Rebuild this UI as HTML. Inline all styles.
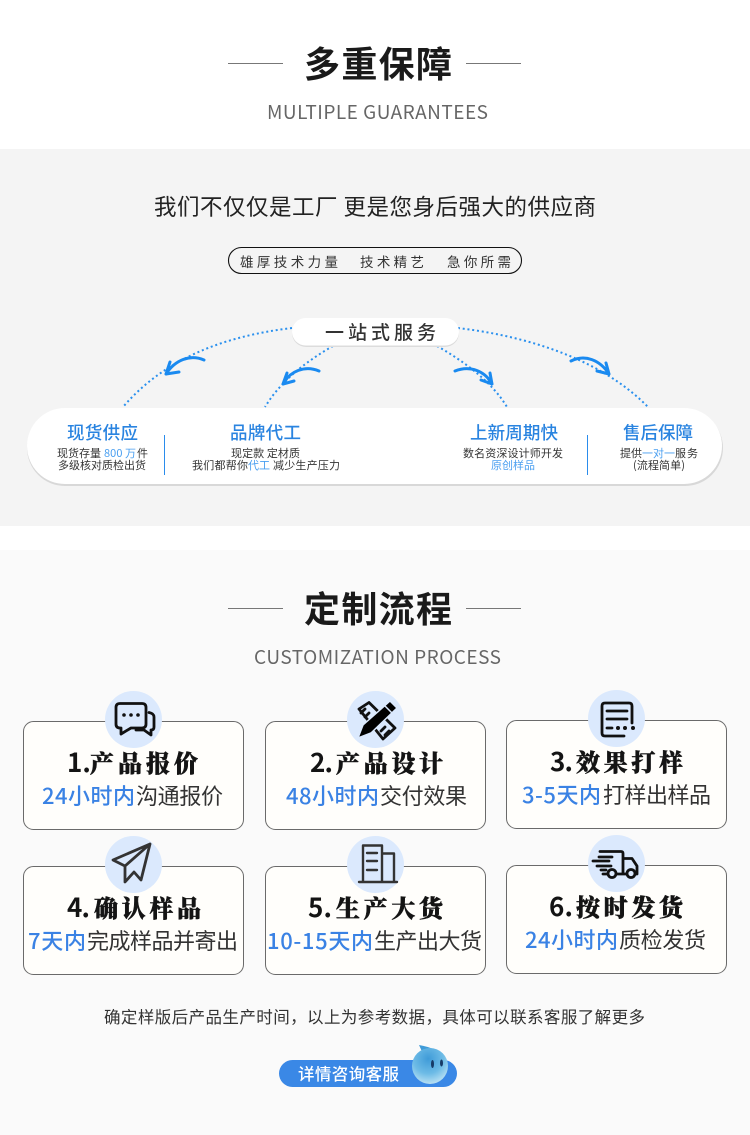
<!DOCTYPE html>
<html lang="zh"><head><meta charset="utf-8"><title>多重保障</title>
<style>
html,body{margin:0;padding:0;background:#fff}
svg{display:block}
text{font-family:"Liberation Sans","Noto Sans CJK SC",sans-serif;fill:#222}
.cjk{font-family:"Noto Sans CJK SC",sans-serif}
.h{font-size:36px;font-weight:700;fill:#1a1a1a}
.en{font-size:19px;fill:#666;font-family:"Noto Sans CJK SC","Liberation Sans",sans-serif}
.t{font-family:"Noto Serif CJK SC",serif;font-size:24px;font-weight:900;fill:#141414;stroke:#141414;stroke-width:.5}
.n{font-family:"Noto Sans CJK SC",sans-serif;font-size:26px;font-weight:700;fill:#141414}
.b{font-family:"Noto Sans CJK SC",sans-serif;font-size:22px;font-weight:500;fill:#3a82e4}
.g{font-family:"Noto Sans CJK SC",sans-serif;font-size:22px;fill:#333}
.bt{font-family:"Noto Sans CJK SC",sans-serif;font-size:17.500px;font-weight:500;fill:#2a84e0}
.s{font-family:"Noto Sans CJK SC",sans-serif;font-size:11px;fill:#333}
.sb{font-family:"Noto Sans CJK SC",sans-serif;font-size:11px;fill:#4a9ff0}
.card{fill:#fffefb;stroke:#6a6a6a;stroke-width:1}
.cir{fill:#dbe9fd}
.dot{fill:none;stroke:#2a90ee;stroke-width:2;stroke-dasharray:2 2.800}
.arr{fill:none;stroke:#1a8af0;stroke-width:3;stroke-linecap:round;stroke-linejoin:round}
.ic{fill:none;stroke:#111;stroke-width:2.800;stroke-linecap:round;stroke-linejoin:round}
</style></head><body>
<svg xmlns="http://www.w3.org/2000/svg" width="750" height="1135" viewBox="0 0 750 1135">
<defs>
<radialGradient id="drop" cx="45%" cy="30%" r="75%"><stop offset="0" stop-color="#3f9bd8"/><stop offset=".55" stop-color="#6dbbe6"/><stop offset="1" stop-color="#c4e6f5"/></radialGradient>
</defs>
<rect width="750" height="1135" fill="#fff"/>
<rect y="149" width="750" height="377" fill="#f4f4f4"/>
<rect y="550" width="750" height="585" fill="#fafafa"/>

<!-- heading 1 -->
<line x1="228" y1="63.500" x2="283" y2="63.500" stroke="#777" stroke-width="1"/>
<line x1="466" y1="63.500" x2="521" y2="63.500" stroke="#777" stroke-width="1"/>
<text class="h cjk" x="304" y="77" textLength="148" lengthAdjust="spacing">多重保障</text>
<text class="en" x="267" y="119" textLength="221" lengthAdjust="spacing">MULTIPLE GUARANTEES</text>

<!-- intro -->
<text class="cjk" x="154" y="215" font-size="22.500" style="fill:#222" textLength="442" lengthAdjust="spacing">我们不仅仅是工厂 更是您身后强大的供应商</text>
<rect x="228.500" y="247.500" width="293" height="26" rx="13" fill="none" stroke="#111" stroke-width="1.100"/>
<text class="cjk" x="240" y="267" font-size="13.500" style="fill:#333" textLength="98" lengthAdjust="spacing">雄厚技术力量</text>
<text class="cjk" x="360" y="267" font-size="13.500" style="fill:#333" textLength="64" lengthAdjust="spacing">技术精艺</text>
<text class="cjk" x="447" y="267" font-size="13.500" style="fill:#333" textLength="64" lengthAdjust="spacing">急你所需</text>

<!-- curves -->
<path class="dot" d="M292 328 C225 336 165 358 123 407"/>
<path class="dot" d="M333 346 C305 362 280 382 265 407"/>
<path class="dot" d="M437 346 C465 362 492 382 507 407"/>
<path class="dot" d="M458 328 C525 336 600 358 648 407"/>
<path class="arr" d="M204 360 C190 354 175 360 166 374 M166 374 L179 372 M166 374 L170 362"/>
<path class="arr" d="M319 371 C305 365 290 371 283 384 M283 384 L294 381 M283 384 L287 373"/>
<path class="arr" d="M455 371 C470 365 485 371 492 384 M492 384 L481 380 M492 384 L490 373"/>
<path class="arr" d="M571 361 C585 354 600 360 609 374 M609 374 L597 371 M609 374 L606 363"/>

<!-- center pill -->
<rect x="292" y="319" width="167" height="28" rx="14" fill="#dcdcdc"/>
<rect x="292" y="318" width="167" height="27.500" rx="13.750" fill="#fff"/>
<text class="cjk" x="325" y="339" font-size="19" style="fill:#333;font-weight:500" textLength="111" lengthAdjust="spacing">一站式服务</text>

<!-- big pill -->
<rect x="27" y="410" width="696" height="76" rx="38" fill="#d8d8d8"/>
<rect x="27" y="408" width="695" height="76" rx="38" fill="#fff"/>
<line x1="164.500" y1="435" x2="164.500" y2="475" stroke="#2a8cec" stroke-width="1"/>
<line x1="587.500" y1="435" x2="587.500" y2="475" stroke="#2a8cec" stroke-width="1"/>

<text class="bt" x="67" y="439" textLength="71" lengthAdjust="spacing">现货供应</text>
<text class="s" x="57" y="457">现货存量</text>
<text class="sb" x="104" y="457" textLength="32" lengthAdjust="spacing">800 万</text>
<text class="s" x="137" y="457">件</text>
<text class="s" x="58" y="469" textLength="88" lengthAdjust="spacing">多级核对质检出货</text>

<text class="bt" x="230" y="439" textLength="71" lengthAdjust="spacing">品牌代工</text>
<text class="s" x="231" y="457" textLength="69" lengthAdjust="spacing">现定款 定材质</text>
<text class="s" x="192" y="469" textLength="56" lengthAdjust="spacing">我们都帮你</text>
<text class="sb" x="248" y="469" textLength="22" lengthAdjust="spacing">代工</text>
<text class="s" x="273" y="469" textLength="67" lengthAdjust="spacing">减少生产压力</text>

<text class="bt" x="470" y="439" textLength="88" lengthAdjust="spacing">上新周期快</text>
<text class="s" x="463" y="457" textLength="100" lengthAdjust="spacing">数名资深设计师开发</text>
<text class="sb" x="491" y="469" textLength="44" lengthAdjust="spacing">原创样品</text>

<text class="bt" x="623" y="439" textLength="70" lengthAdjust="spacing">售后保障</text>
<text class="s" x="620" y="457" textLength="22" lengthAdjust="spacing">提供</text>
<text class="sb" x="642" y="457" textLength="33" lengthAdjust="spacing">一对一</text>
<text class="s" x="675" y="457" textLength="23" lengthAdjust="spacing">服务</text>
<text class="s" x="633" y="469" textLength="52" lengthAdjust="spacing">(流程简单)</text>

<!-- heading 2 -->
<line x1="228" y1="608.500" x2="283" y2="608.500" stroke="#777" stroke-width="1"/>
<line x1="466" y1="608.500" x2="521" y2="608.500" stroke="#777" stroke-width="1"/>
<text class="h cjk" x="304" y="622" textLength="148" lengthAdjust="spacing">定制流程</text>
<text class="en" x="254" y="664" textLength="247" lengthAdjust="spacing">CUSTOMIZATION PROCESS</text>

<!-- cards -->
<rect class="card" x="23.500" y="721.500" width="220" height="108" rx="10"/>
<rect class="card" x="265.500" y="721.500" width="220" height="108" rx="10"/>
<rect class="card" x="506.500" y="720.500" width="220" height="108" rx="10"/>
<rect class="card" x="23.500" y="866.500" width="220" height="108" rx="10"/>
<rect class="card" x="265.500" y="866.500" width="220" height="108" rx="10"/>
<rect class="card" x="506.500" y="865.500" width="220" height="108" rx="10"/>

<circle class="cir" cx="133.500" cy="719.500" r="28.500"/>
<circle class="cir" cx="375.500" cy="719.500" r="28.500"/>
<circle class="cir" cx="616.500" cy="718.500" r="28.500"/>
<circle class="cir" cx="133.500" cy="864.500" r="28.500"/>
<circle class="cir" cx="375.500" cy="864.500" r="28.500"/>
<circle class="cir" cx="616.500" cy="863.500" r="28.500"/>

<!-- icon 1 chat -->
<path class="ic" d="M120 703.500 H142 Q146 703.500 146 707.500 V724 Q146 728 142 728 H131 L121 734 V728 H120 Q116 728 116 724 V707.500 Q116 703.500 120 703.500 Z"/>
<path class="ic" d="M149 712.500 Q154 713.500 154 717 V727 Q154 730 151 730 V735 L144 730 H136"/>
<circle cx="124" cy="715" r="1.800" fill="#111"/><circle cx="131" cy="715" r="1.800" fill="#111"/><circle cx="138" cy="715" r="1.800" fill="#111"/>

<!-- icon 2 ruler + pencil -->
<path class="ic" d="M359 709 L369 702.500 L395 728 L383 739 Z" stroke-width="2.200"/>
<path class="ic" d="M365 709 L361 713 M369 713 L365 717 M385 727 L381 731 M389 731 L385 735" stroke-width="1.800"/>
<path d="M390 701 L397 708 L371 733 L358 738 L363 725 Z" fill="#000" stroke="#dbe9fd" stroke-width="1.500" stroke-linejoin="round"/>
<path d="M385 706 L392 713" stroke="#dbe9fd" stroke-width="1.500"/>

<!-- icon 3 doc -->
<path class="ic" d="M624 736 H605 Q602 736 602 733 V706 Q602 703 605 703 H629 Q632 703 632 706 V723" stroke-width="3"/>
<path class="ic" d="M607 711 H627 M607 719 H627 M607 728 H612" stroke-width="2.600"/>
<circle cx="618" cy="728" r="2" fill="#111"/><circle cx="625" cy="728" r="2" fill="#111"/><circle cx="633" cy="728" r="2" fill="#111"/>

<!-- icon 4 plane -->
<path d="M150 844 L113 860 L125 866 L125 882 L134 872 L141 880 Z M150 844 L125 866" fill="none" stroke="#333" stroke-width="2.800" stroke-linejoin="round" stroke-linecap="round"/>

<!-- icon 5 building -->
<path d="M363 881 V845.500 H382 V881 M382 853.500 H394 V881 M359 882 H397 M367 853 H377 M367 861 H377 M367 870 H377" fill="none" stroke="#333" stroke-width="2.400" stroke-linecap="round" stroke-linejoin="round"/>

<!-- icon 6 truck -->
<path class="ic" d="M600 851.500 H621 Q623 851.500 623 853.500 V874 H617 M603 874 H607 M623 858.500 H632 L637 866 V874 H636 M626 874 H623" stroke-width="2"/>
<path class="ic" d="M599 857 H612 M593 861 H609 M597 866 H611 M601 870 H606" stroke-width="2"/>
<circle class="ic" cx="612" cy="873.500" r="4" stroke-width="2"/>
<circle class="ic" cx="631" cy="873.500" r="4" stroke-width="2"/>

<!-- card text -->
<text class="n" x="67" y="772">1.</text>
<text class="t" x="90" y="772" textLength="108" lengthAdjust="spacing">产品报价</text>
<text class="b" x="42" y="804" textLength="93" lengthAdjust="spacing">24小时内</text>
<text class="g" x="136" y="804" textLength="87" lengthAdjust="spacing">沟通报价</text>

<text class="n" x="310" y="772" textLength="23" lengthAdjust="spacing">2.</text>
<text class="t" x="336" y="772" textLength="107" lengthAdjust="spacing">产品设计</text>
<text class="b" x="286" y="804" textLength="93" lengthAdjust="spacing">48小时内</text>
<text class="g" x="380" y="804" textLength="87" lengthAdjust="spacing">交付效果</text>

<text class="n" x="550" y="771" textLength="23" lengthAdjust="spacing">3.</text>
<text class="t" x="576" y="771" textLength="107" lengthAdjust="spacing">效果打样</text>
<text class="b" x="522" y="803" textLength="79" lengthAdjust="spacing">3-5天内</text>
<text class="g" x="603" y="803" textLength="108" lengthAdjust="spacing">打样出样品</text>

<text class="n" x="67" y="917" textLength="23" lengthAdjust="spacing">4.</text>
<text class="t" x="94" y="917" textLength="107" lengthAdjust="spacing">确认样品</text>
<text class="b" x="28" y="949" textLength="58" lengthAdjust="spacing">7天内</text>
<text class="g" x="87" y="949" textLength="151" lengthAdjust="spacing">完成样品并寄出</text>

<text class="n" x="308" y="917" textLength="24" lengthAdjust="spacing">5.</text>
<text class="t" x="336" y="917" textLength="107" lengthAdjust="spacing">生产大货</text>
<text class="b" x="267" y="949" textLength="106" lengthAdjust="spacing">10-15天内</text>
<text class="g" x="374" y="949" textLength="108" lengthAdjust="spacing">生产出大货</text>

<text class="n" x="549" y="916" textLength="24" lengthAdjust="spacing">6.</text>
<text class="t" x="576" y="916" textLength="107" lengthAdjust="spacing">按时发货</text>
<text class="b" x="525" y="948" textLength="93" lengthAdjust="spacing">24小时内</text>
<text class="g" x="619" y="948" textLength="87" lengthAdjust="spacing">质检发货</text>

<!-- footer -->
<text class="cjk" x="104" y="1023" font-size="16.500" style="fill:#333" textLength="541" lengthAdjust="spacing">确定样版后产品生产时间，以上为参考数据，具体可以联系客服了解更多</text>
<rect x="279" y="1060" width="178" height="27" rx="13.500" fill="#3a88e6"/>
<text class="cjk" x="298" y="1080" font-size="16.500" style="fill:#fff;font-weight:500" textLength="101" lengthAdjust="spacing">详情咨询客服</text>
<path d="M419 1045 Q426 1046 436 1050 L424 1056 Z" fill="#3f9bd8"/>
<circle cx="430" cy="1066" r="18" fill="url(#drop)"/>
<ellipse cx="432.500" cy="1064" rx="1.500" ry="4" fill="#173a66"/>
<ellipse cx="441.500" cy="1063" rx="1.500" ry="3.500" fill="#173a66"/>
</svg>
</body></html>
